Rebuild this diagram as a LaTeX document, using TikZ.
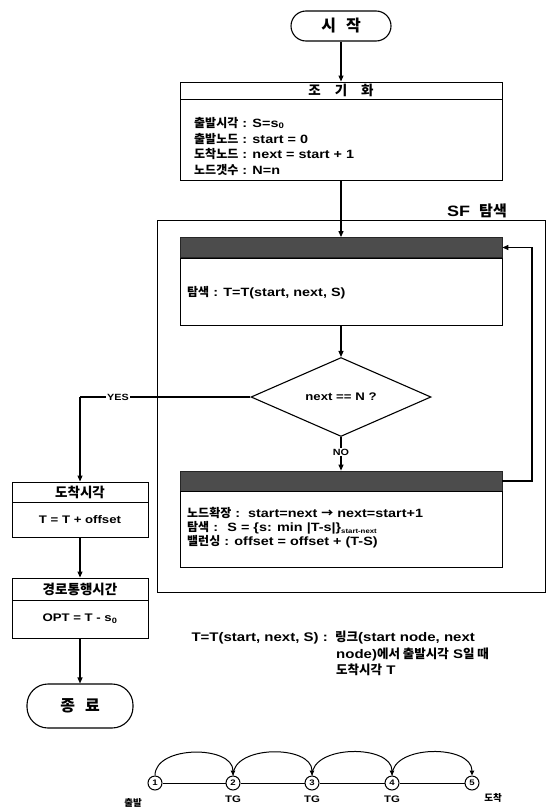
\documentclass[tikz,border=0pt]{standalone}
\usepackage{fontspec}
\usepackage{graphicx}
\setmainfont{Liberation Sans}[FakeStretch=1.2]
\newfontfamily\krf{Noto Sans CJK KR}
\usetikzlibrary{shapes.geometric,arrows.meta}
\newcommand{\kr}[1]{{\krf #1}}
\newcommand{\fsz}[2]{\fontsize{#1}{#2}\selectfont}
\begin{document}
\begin{tikzpicture}[x=1pt,y=-1pt,
  term/.style={draw, line width=1.1pt, rounded corners=15pt, minimum width=100, minimum height=30, inner sep=0, font=\bfseries\fsz{16}{18}},
  hdr/.style={draw, line width=1pt, inner sep=0, font=\bfseries\fsz{13.5}{15}},
  bodyb/.style={draw, line width=1pt, inner sep=0, font=\bfseries\fsz{11}{13}},
  bar/.style={draw=black!85, fill=black!70, line width=0.8pt, inner sep=0, minimum width=322, minimum height=20},
  txt/.style={inner sep=0, anchor=base west, font=\bfseries\fsz{12}{14}},
  anntxt/.style={inner sep=0, anchor=base west, font=\bfseries\fsz{12.5}{15}},
  lbl/.style={inner sep=1pt, fill=white, font=\bfseries\fsz{9}{10}},
  conn/.style={line width=1.1pt, -{Triangle[length=6pt,width=5pt]}},
  plain/.style={line width=1.1pt},
  circ/.style={circle, draw, line width=1pt, minimum size=14, inner sep=0, font=\bfseries\fsz{8}{9}},
  decision/.style={diamond, draw, line width=1.1pt, minimum width=180, minimum height=64, inner sep=0, font=\bfseries\fsz{11}{13}},
  chainlbl/.style={inner sep=0, font=\bfseries\fsz{9.5}{10}}
]
\useasboundingbox (0,0) rectangle (550,811);

% start
\node[term] (start) at (341,26) {\kr{시\hspace{10pt}작}};

% initialisation
\node[hdr, minimum width=322, minimum height=17] (inith) at (341,90.5) {\kr{조\hspace{14pt}기\hspace{14pt}화}};
\node[bodyb, minimum width=322, minimum height=81] (initb) at (341,139.5) {};
\node[txt] (i1) at (194,127) {\kr{출발시각} : S=s\textsubscript{0}};
\node[txt] (i2) at (194,143) {\kr{출발노드} : start = 0};
\node[txt] (i3) at (194,158.5) {\kr{도착노드} : next = start + 1};
\node[txt] (i4) at (194,174) {\kr{노드갯수} : N=n};

% SF search frame
\node[inner sep=0, anchor=base west, font=\bfseries\fsz{15}{17}] (sflbl) at (447,216) {SF\hspace{9pt}\kr{탐색}};
\draw[line width=0.7pt] (157,220) rectangle (545,592);

\node[bar] (bar1) at (341,247.5) {};
\node[bodyb, minimum width=322, minimum height=67] (body1) at (341,291.5) {};
\node[txt] (b1t) at (187,296) {\kr{탐색} : T=T(start, next, S)};

\node[decision] (dia) at (341,397) {next == N ?};
\node[lbl] (nolbl) at (341,452) {NO};

\node[bar] (bar2) at (341,481) {};
\node[bodyb, minimum width=322, minimum height=76] (body2) at (341,529) {};
\node[txt] (b2a) at (187,517) {\kr{노드확장} :\ \ start=next \kr{→} next=start+1};
\node[txt] (b2b) at (187,531) {\kr{탐색} : \ S = \{s: min |T-s|\}\raisebox{-2.5pt}{\fsz{6.5}{7}start-next}};
\node[txt] (b2c) at (187,545) {\kr{밸런싱} : offset = offset + (T-S)};

\coordinate (loopx) at (532,0);

% arrival / travel time
\node[hdr, minimum width=136, minimum height=20] (arrh) at (80,492) {\kr{도착시각}};
\node[bodyb, minimum width=136, minimum height=35] (arrb) at (80,519.5) {T = T + offset};
\node[hdr, minimum width=136, minimum height=22] (pathh) at (80,589) {\kr{경로통행시간}};
\node[bodyb, minimum width=136, minimum height=38] (pathb) at (80,619) {OPT = T - s\textsubscript{0}};
\node[term, minimum width=106, minimum height=44, rounded corners=21pt] (endn) at (80,706) {\kr{종\hspace{10pt}료}};

% connectors
\draw[conn] (start.south) -- (inith.north);
\draw[conn] (initb.south) -- (bar1.north);
\draw[conn] (body1.south) -- (dia.north);
\draw[plain] (dia.south) -- (nolbl.north);
\draw[conn] (nolbl.south) -- (bar2.north);
\draw[conn] (bar2.east) -- (bar2.east -| loopx) -- (bar1.east -| loopx) -- (bar1.east);
\coordinate (yesc) at (arrh.north |- dia.west);
\draw[plain] (dia.west) -- (yesc);
\draw[conn] (yesc) -- (arrh.north);
\node[lbl] (yeslbl) at (118,397) {YES};
\draw[conn] (arrb.south) -- (pathh.north);
\draw[conn] (pathb.south) -- (endn.north);

% annotation
\node[anntxt, anchor=base east] (annl) at (328,641) {T=T(start, next, S) :};
\node[anntxt] (ann1) at (335,641) {\kr{링크}(start node, next};
\node[anntxt] (ann2) at (336,658) {node)\kr{에서 출발시각} S\kr{일 때}};
\node[anntxt] (ann3) at (336,674) {\kr{도착시각} T};

% chain
\node[circ] (c1) at (155,783) {1};
\node[circ] (c2) at (233,783) {2};
\node[circ] (c3) at (312,783) {3};
\node[circ] (c4) at (392,783) {4};
\node[circ] (c5) at (472,783) {5};
\foreach \a/\b in {c1/c2,c2/c3,c3/c4,c4/c5}{
  \draw[line width=0.9pt] (\a.east) -- (\b.west);
  \draw[line width=1pt, -{Triangle[length=5pt,width=4.5pt]}] (\a.north) to[out=90,in=90,looseness=1] (\b.north);
}
\node[chainlbl, font=\bfseries\krf\fsz{9.5}{10}] (l1) at (133,803) {출발};
\node[chainlbl] (l2) at (233,799) {TG};
\node[chainlbl] (l3) at (312,799) {TG};
\node[chainlbl] (l4) at (392,799) {TG};
\node[chainlbl, font=\bfseries\krf\fsz{9.5}{10}] (l5) at (493,798) {도착};
\end{tikzpicture}
\end{document}
